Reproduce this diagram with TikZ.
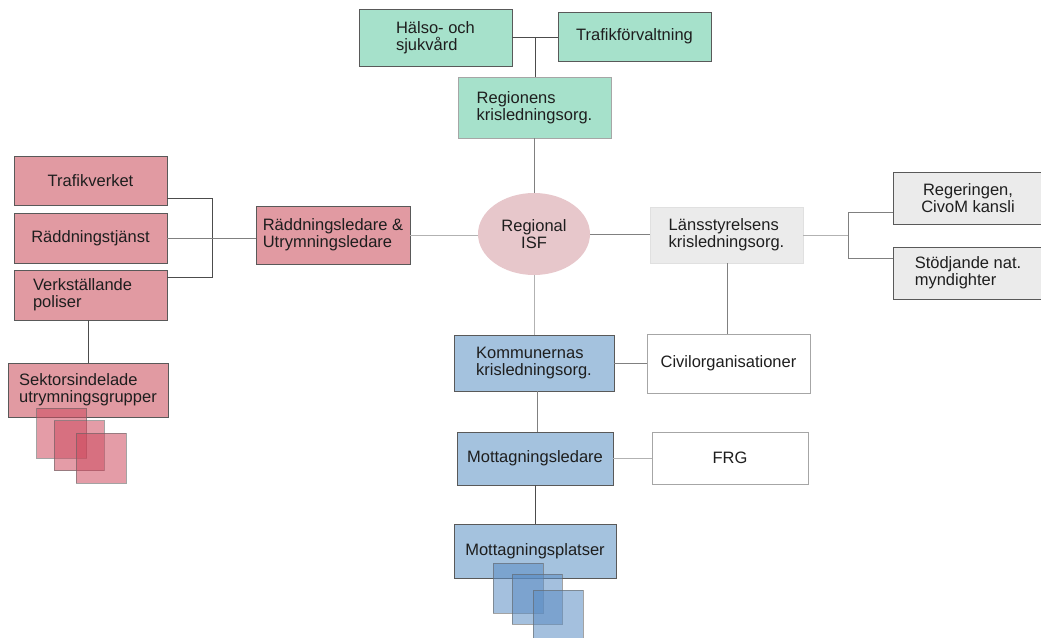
\documentclass[tikz,border=0pt]{standalone}
\usepackage{fontspec}
\setmainfont{Liberation Sans}
\usetikzlibrary{shapes.geometric}
\definecolor{mint}{RGB}{166,225,203}
\definecolor{rosa}{RGB}{225,154,162}
\definecolor{ellfill}{RGB}{231,199,203}
\definecolor{blaa}{RGB}{164,194,222}
\definecolor{graa}{RGB}{235,235,235}
\definecolor{sqpink}{RGB}{205,75,95}
\definecolor{sqblue}{RGB}{90,140,195}
\definecolor{txt}{RGB}{30,30,30}
\begin{document}
\begin{tikzpicture}[x=1pt,y=-1pt,
  font=\fontsize{16.5}{17}\selectfont,
  every node/.style={text=txt},
  sz/.style 2 args={minimum width=#1pt, minimum height=#2pt},
  box/.style={draw=black!65, line width=0.8pt, rectangle, inner sep=2pt, align=left},
  cbox/.style={box, align=center},
  sqp/.style={draw=black!60, draw opacity=0.6, fill=sqpink, fill opacity=0.55, line width=0.8pt, minimum size=50pt, inner sep=0pt},
  sqb/.style={draw=black!60, draw opacity=0.6, fill=sqblue, fill opacity=0.55, line width=0.8pt, minimum size=50pt, inner sep=0pt},
  dline/.style={draw=black!70, line width=1pt},
  mline/.style={draw=black!50, line width=1pt},
  lline/.style={draw=black!30, line width=1pt}]
\useasboundingbox (0,0) rectangle (1041,637);

% top (region)
\node[box, fill=mint, sz={153}{57}] (hals) at (435.5,37.5) {Hälso- och\\sjukvård};
\node[box, fill=mint, sz={153}{49}] (trafikf) at (634.5,36.5) {Trafikförvaltning};
\node[box, fill=mint, sz={153}{61}, draw=black!35] (regionens) at (534.5,107.5) {Regionens\\krisledningsorg.};

% centre
\node[ellipse, fill=ellfill, sz={112}{82}, align=center, inner sep=0pt] (isf) at (534,234) {Regional\\ISF};

% right
\node[box, fill=graa, sz={153}{56}, draw=black!12] (lans) at (726.5,235) {Länsstyrelsens\\krisledningsorg.};
\node[cbox, fill=graa, sz={150}{52}] (regering) at (968,198) {Regeringen,\\CivoM kansli};
\node[box, fill=graa, sz={150}{52}] (stod) at (968,273) {Stödjande nat.\\myndighter};
\node[box, fill=white, sz={163}{59}, draw=black!35] (civil) at (728.5,363.5) {Civilorganisationer};

% left
\node[cbox, fill=rosa, sz={153}{49}] (trafikv) at (90.5,180.5) {Trafikverket};
\node[cbox, fill=rosa, sz={153}{50}] (raddtj) at (90.5,238) {Räddningstjänst};
\node[box, fill=rosa, sz={153}{50}, text width=115pt, inner xsep=19pt] (verk) at (90.5,295) {Verkställande\\poliser};
\node[box, fill=rosa, sz={154}{58}] (raddled) at (333,235) {Räddningsledare \&\\Utrymningsledare};
\node[box, fill=rosa, sz={160}{54}] (sektor) at (88,390) {Sektorsindelade\\utrymningsgrupper};
\node[sqp] (ps1) at (61.5,433) {};
\node[sqp] (ps2) at (79,445.5) {};
\node[sqp] (ps3) at (101,458) {};

% bottom
\node[box, fill=blaa, sz={160}{56}] (kommun) at (534,363) {Kommunernas\\krisledningsorg.};
\node[cbox, fill=blaa, sz={156}{53}] (mled) at (535,458.5) {Mottagningsledare};
\node[cbox, fill=white, sz={156}{52}, draw=black!35] (frg) at (730,458) {FRG};
\node[cbox, fill=blaa, sz={162}{54}] (mplats) at (535,551) {Mottagningsplatser};
\node[sqb] (bs1) at (518,588) {};
\node[sqb] (bs2) at (537,599) {};
\node[sqb] (bs3) at (558,615) {};

% connectors top
\coordinate (tj) at (535,37);
\draw[dline] (hals.east |- tj) -- (trafikf.west |- tj);
\draw[dline] (tj) -- (tj |- regionens.north);
\draw[mline] (regionens.south -| isf.north) -- (isf.north);
% centre
\draw[lline] (raddled.east) -- (raddled.east -| isf.west);
\draw[mline] (isf.east) -- (isf.east -| lans.west);
\draw[lline] (isf.south) -- (isf.south |- kommun.north);
% right
\coordinate (rtop) at (848,212);
\coordinate (rbot) at (848,258);
\draw[lline] (lans.east) -- (lans.east -| rtop);
\draw[mline] (regering.west |- rtop) -- (rtop) -- (rbot) -- (stod.west |- rbot);
\draw[mline] (lans.south -| 727,0) -- (civil.north -| 727,0);
\draw[mline] (kommun.east) -- (kommun.east -| civil.west);
% left
\coordinate (ltop) at (212,198);
\coordinate (lbot) at (212,277);
\draw[dline] (trafikv.east |- ltop) -- (ltop) -- (lbot) -- (verk.east |- lbot);
\draw[mline] (raddtj.east) -- (raddtj.east -| raddled.west);
\draw[dline] (sektor.north) -- (sektor.north |- verk.south);
% bottom
\draw[mline] (kommun.south -| 537,0) -- (mled.north -| 537,0);
\draw[lline] (mled.east) -- (mled.east -| frg.west);
\draw[dline] (mled.south) -- (mplats.north);
\end{tikzpicture}
\end{document}
